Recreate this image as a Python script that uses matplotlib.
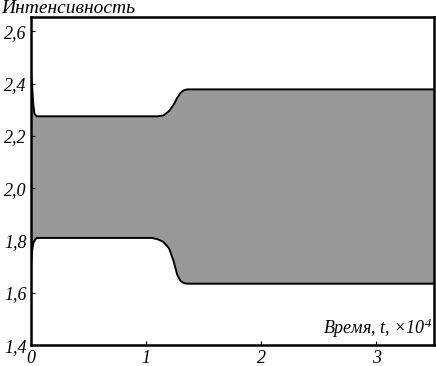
import numpy as np
import matplotlib.pyplot as plt
from matplotlib.ticker import FuncFormatter

# Envelope of the intensity oscillations
t = [0, 0.01, 0.02, 0.03, 0.05, 0.1, 1.0, 1.05, 1.1, 1.15, 1.2, 1.24, 1.27, 1.3, 1.33, 1.36, 3.5]
upper = [2.45, 2.39, 2.32, 2.285, 2.275, 2.275, 2.275, 2.275, 2.275, 2.278, 2.295, 2.32, 2.345,
         2.365, 2.375, 2.378, 2.378]
lower = [1.70, 1.76, 1.79, 1.80, 1.81, 1.81, 1.81, 1.81, 1.805, 1.795, 1.77, 1.72, 1.67,
         1.645, 1.637, 1.635, 1.635]

x_ticks = [0, 1, 2, 3]
y_ticks = [1.4, 1.6, 1.8, 2.0, 2.2, 2.4, 2.6]

plt.rcParams['font.family'] = 'Liberation Serif'
plt.rcParams['font.style'] = 'italic'
plt.rcParams['mathtext.fontset'] = 'custom'
plt.rcParams['mathtext.rm'] = 'Liberation Serif:italic'
plt.rcParams['mathtext.it'] = 'Liberation Serif:italic'

fig = plt.figure(figsize=(4.36, 3.66), dpi=100)
ax = fig.add_axes([0.071, 0.057, 0.924, 0.896])

ax.fill_between(t, lower, upper, color='#999999', linewidth=0)
ax.plot(t, upper, color='black', linewidth=1.4)
ax.plot(t, lower, color='black', linewidth=1.4)

ax.set_xlim(0, 3.5)
ax.set_ylim(1.4, 2.654)
ax.set_xticks(x_ticks)
ax.set_yticks(y_ticks)
ax.xaxis.set_major_formatter(FuncFormatter(lambda v, p: f'{v:.0f}'))
ax.yaxis.set_major_formatter(FuncFormatter(lambda v, p: f'{v:.1f}'.replace('.', ',')))
ax.tick_params(direction='in', length=3, width=0.8, labelsize=13)
ax.tick_params(axis='y', pad=3)
ax.tick_params(axis='x', pad=3.5)

for s in ax.spines.values():
    s.set_linewidth(1.8)

fig.text(0.003, 1.0, 'Интенсивность', ha='left', va='top', fontsize=14, style='italic')
ax.text(0.995, 0.015, 'Время, t, ×10$^4$', transform=ax.transAxes,
        ha='right', va='bottom', fontsize=13, style='italic')

fig.savefig('out.png', dpi=100)
